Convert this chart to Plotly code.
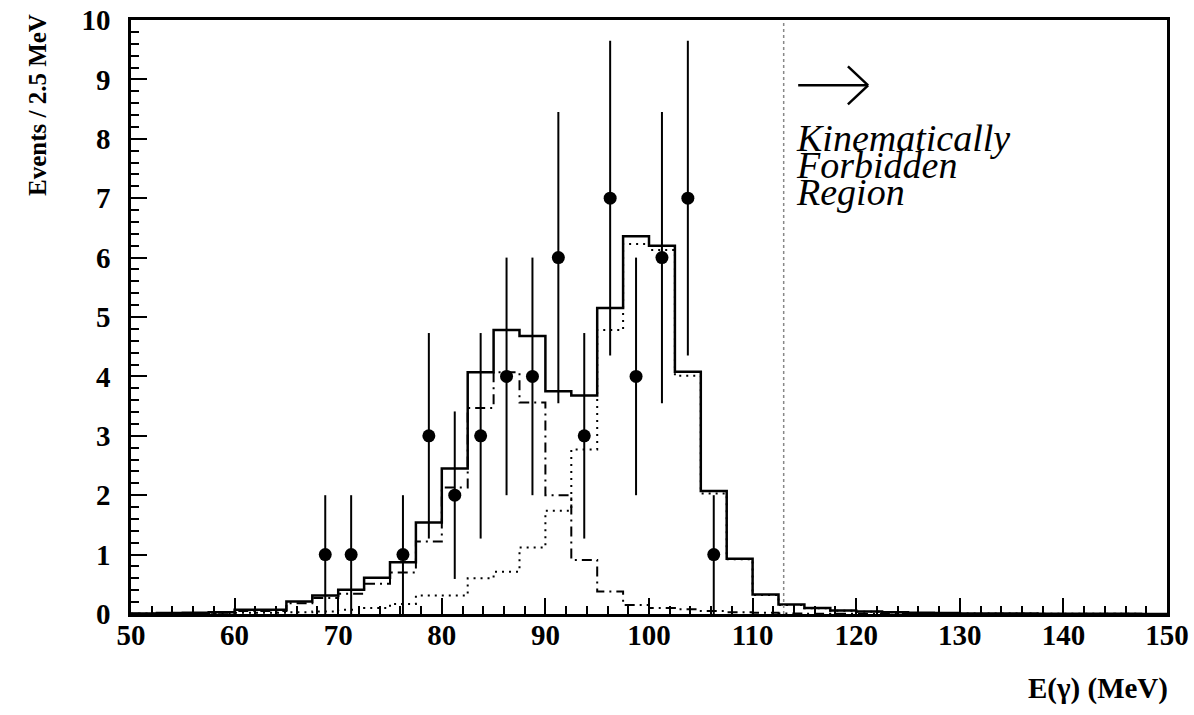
import numpy as np
import plotly.graph_objects as go

# ---- data ----
bin_edges = np.arange(50.0, 150.0 + 1e-9, 2.5)  # 40 bins of 2.5 MeV

total_mc = [0.01, 0.015, 0.02, 0.03, 0.07, 0.07, 0.21, 0.31, 0.41, 0.61,
            0.87, 1.54, 2.45, 4.07, 4.78, 4.68, 3.75, 3.68, 5.15, 6.36,
            6.20, 4.08, 2.07, 0.93, 0.33, 0.16, 0.10, 0.06, 0.04, 0.03,
            0.02, 0.015, 0.01, 0.01, 0.008, 0.006, 0.005, 0.004, 0.003, 0.002]

comp_low = [0.005, 0.008, 0.01, 0.02, 0.05, 0.05, 0.18, 0.27, 0.34, 0.51,
            0.70, 1.22, 2.13, 3.47, 4.07, 3.56, 2.00, 0.91, 0.38, 0.15,
            0.10, 0.08, 0.05, 0.03, 0.02, 0.01, 0.005, 0.004, 0.003, 0.002,
            0.002, 0.001, 0.001, 0.0, 0.0, 0.0, 0.0, 0.0, 0.0, 0.0]

comp_high = [0.003, 0.005, 0.01, 0.01, 0.02, 0.02, 0.03, 0.04, 0.07, 0.10,
             0.17, 0.31, 0.31, 0.60, 0.71, 1.12, 1.74, 2.77, 4.78, 6.23,
             6.13, 4.01, 2.03, 0.92, 0.32, 0.15, 0.095, 0.056, 0.037, 0.028,
             0.018, 0.014, 0.01, 0.01, 0.008, 0.006, 0.005, 0.004, 0.003, 0.002]

data_x = [68.75, 71.25, 76.25, 78.75, 81.25, 83.75, 86.25, 88.75, 91.25,
          93.75, 96.25, 98.75, 101.25, 103.75, 106.25]
data_y = [1, 1, 1, 3, 2, 3, 4, 4, 6, 3, 7, 4, 6, 7, 1]
data_err = [1, 1, 1, 1.73, 1.41, 1.73, 2, 2, 2.45, 1.73, 2.65, 2, 2.45, 2.65, 1]

x_ticks = [50, 60, 70, 80, 90, 100, 110, 120, 130, 140, 150]
y_ticks = [0, 1, 2, 3, 4, 5, 6, 7, 8, 9, 10]

kin_limit = 113.0

FONT = "Liberation Serif"

W, H = 1194, 715
L, R, T, B = 131, 27, 20, 101
pw, ph = W - L - R, H - T - B


def step(vals):
    return list(vals) + [vals[-1]]


fig = go.Figure()
fig.add_trace(go.Scatter(x=bin_edges, y=step(comp_high), mode="lines", line_shape="hv",
                         line=dict(color="black", width=2, dash="2px,5px"), showlegend=False))
fig.add_trace(go.Scatter(x=bin_edges, y=step(comp_low), mode="lines", line_shape="hv",
                         line=dict(color="black", width=2, dash="10px,5px,2px,5px"), showlegend=False))
fig.add_trace(go.Scatter(x=bin_edges, y=step(total_mc), mode="lines", line_shape="hv",
                         line=dict(color="black", width=2.5), showlegend=False))
fig.add_trace(go.Scatter(x=data_x, y=data_y, mode="markers",
                         marker=dict(color="black", size=13),
                         error_y=dict(type="data", array=data_err, color="black",
                                      thickness=2, width=0),
                         showlegend=False))

# kinematic limit line
fig.add_shape(type="line", x0=kin_limit, x1=kin_limit, y0=0, y1=10, xref="x", yref="y",
              line=dict(color="#888888", width=1.5, dash="dot"))
# arrow
arrow_y = 8.9
fig.add_shape(type="line", x0=114.4, x1=121.15, y0=arrow_y, y1=arrow_y,
              line=dict(color="black", width=2.5))
fig.add_shape(type="line", x0=121.15, x1=119.2, y0=arrow_y, y1=9.22,
              line=dict(color="black", width=2.5))
fig.add_shape(type="line", x0=121.15, x1=119.2, y0=arrow_y, y1=8.58,
              line=dict(color="black", width=2.5))

for txt, yy in [("Kinematically", 8.01), ("Forbidden", 7.56), ("Region", 7.11)]:
    fig.add_annotation(x=114.0, y=yy, xref="x", yref="y", text=txt, showarrow=False,
                       xanchor="left", yanchor="middle",
                       font=dict(family=FONT, size=38, color="black", style="italic"))

# axis titles (positions given in pixels, converted to paper units)
fig.add_annotation(x=(38 - L) / pw, y=(H - B - 105) / ph, xref="paper", yref="paper",
                   text="<b>Events / 2.5 MeV</b>", showarrow=False, textangle=-90,
                   xanchor="center", yanchor="middle",
                   font=dict(family=FONT, size=25, color="black"))
fig.add_annotation(x=(1170 - L) / pw, y=-(688 - (H - B)) / ph, xref="paper", yref="paper",
                   text="<b>E(γ) (MeV)</b>", showarrow=False, xanchor="right", yanchor="middle",
                   font=dict(family=FONT, size=29, color="black"))

axis_common = dict(showgrid=False, zeroline=False, showline=True, linecolor="black",
                   linewidth=2.5, mirror=True, ticks="inside", tickcolor="black",
                   tickwidth=2, ticklen=16, automargin=False,
                   tickfont=dict(family=FONT, size=29, color="black", weight="bold"))

fig.update_xaxes(range=[50, 150], tickvals=x_ticks, ticktext=[str(v) for v in x_ticks],
                 minor=dict(dtick=2, tick0=50, ticks="inside", ticklen=8, tickwidth=1.5,
                            tickcolor="black"),
                 ticklabelstandoff=-7, **axis_common)
fig.update_yaxes(range=[0, 10], tickvals=y_ticks, ticktext=[str(v) for v in y_ticks],
                 minor=dict(dtick=0.2, tick0=0, ticks="inside", ticklen=8, tickwidth=1.5,
                            tickcolor="black"),
                 ticklabelstandoff=12, **axis_common)

fig.update_layout(width=W, height=H, margin=dict(l=L, r=R, t=T, b=B, autoexpand=False),
                  plot_bgcolor="white", paper_bgcolor="white",
                  font=dict(family=FONT, color="black"))

fig.write_html("out.html", config={"displayModeBar": False},
               post_script="document.body.style.margin='0';document.body.style.padding='0';")
